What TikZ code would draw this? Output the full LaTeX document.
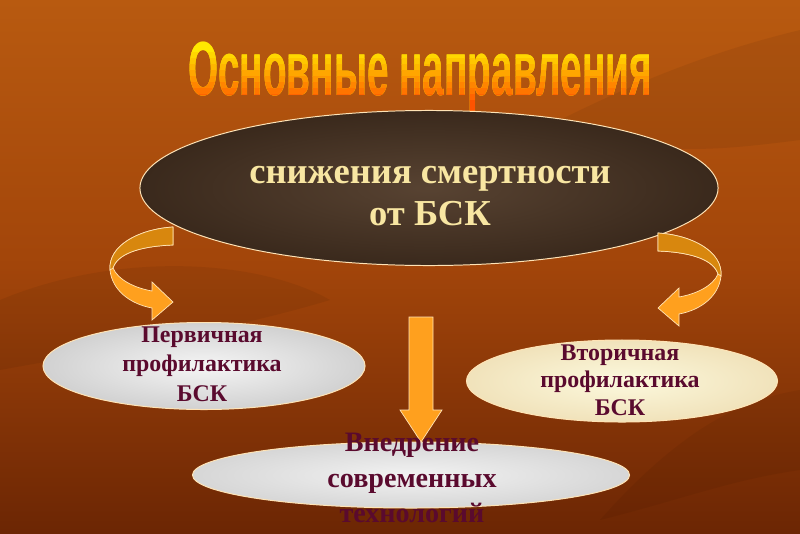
\documentclass[tikz,border=0pt]{standalone}
\usepackage{fontspec}
\setmainfont{Liberation Serif}
\newfontfamily\headfont{Liberation Sans}
\usetikzlibrary{shapes.geometric, positioning}
\definecolor{bgTop}{HTML}{B85A10}
\definecolor{bgMid}{HTML}{A2450A}
\definecolor{bgBot}{HTML}{6C2604}
\definecolor{arrOrange}{HTML}{FFA01E}
\definecolor{arrDark}{HTML}{D8870E}
\definecolor{arrEdge}{HTML}{FFE3B5}
\definecolor{txtMaroon}{HTML}{5A0A2E}
\definecolor{txtCream}{HTML}{F8E6A2}
\definecolor{headYellow}{HTML}{FFE800}
\definecolor{headRed}{HTML}{FF5200}
\definecolor{marbleIn}{HTML}{584332}
\definecolor{marbleOut}{HTML}{3A291C}
\tikzset{
  oval/.style={ellipse, draw=arrEdge, line width=0.7pt, inner sep=0pt},
  ovalText/.style={align=center, text=txtMaroon},
  bendArrow/.pic={
    \filldraw[arrOrange, draw=arrEdge, line width=0.5pt]
      (0,0) .. controls (-33,2) and (-65,18) .. (-63,43)
      .. controls (-61,63) and (-43,77) .. (-21,81)
      -- (-21,93) -- (0,75) -- (-21,55) -- (-21,64)
      .. controls (-38,61) and (-55,53) .. (-60,41)
      .. controls (-55,25) and (-28,19) .. (0,18) -- cycle;
    \filldraw[arrDark, draw=arrEdge, line width=0.5pt]
      (0,0) .. controls (-33,2) and (-65,18) .. (-63,43)
      -- (-60,41) .. controls (-55,25) and (-28,19) .. (0,18) -- cycle;
  },
}

\begin{document}
\begin{tikzpicture}[x=0.025cm, y=-0.025cm]
  % background
  \shade[top color=bgTop, bottom color=bgBot, middle color=bgMid]
    (0,0) rectangle (800,533);
  \useasboundingbox (0,0) rectangle (800,533);
  \fill[black, opacity=0.06] (0,300) .. controls (120,250) and (260,260) .. (330,300)
    .. controls (230,330) and (110,350) .. (0,370) -- cycle;
  \fill[black, opacity=0.06] (560,120) .. controls (680,60) and (760,40) .. (800,30)
    -- (800,140) .. controls (720,150) and (640,160) .. cycle;
  \fill[black, opacity=0.05] (600,520) .. controls (680,430) and (740,400) .. (800,390)
    -- (800,470) .. controls (730,480) and (680,500) .. cycle;

  % title, drawn in bands for a gradient
  \node[font=\headfont\bfseries\fontsize{52}{52}\selectfont, text=headYellow,
        anchor=base] (title) at (420,95) {\scalebox{0.53}[1.05]{Основные направления}};
  \foreach \i in {0,...,9}{
    \begin{scope}
      \clip (150,{46+6*\i}) rectangle (700,{52+6*\i+(\i==9)*20});
      \pgfmathsetmacro\mixval{100-11*\i}
      \node[font=\headfont\bfseries\fontsize{52}{52}\selectfont,
            text=headYellow!\mixval!headRed, anchor=base]
        at (420,95) {\scalebox{0.53}[1.05]{Основные направления}};
    \end{scope}
  }

  % ovals
  \node[oval, inner color=marbleIn, outer color=marbleOut,
        minimum width=14.45cm, minimum height=3.875cm] (goal) at (429,188) {};
  \node[oval, inner color=white!96!black, outer color=white!82!black,
        minimum width=8.05cm, minimum height=2.175cm] (first) at (204,366) {};
  \node[oval, inner color=white!90!yellow!95!brown, outer color=brown!25!white!90!yellow,
        minimum width=7.775cm, minimum height=2.05cm] (second) at (622,381) {};
  \node[oval, inner color=white!95!black, outer color=white!84!black,
        minimum width=10.925cm, minimum height=1.65cm] (tech) at (411,475) {};

  % arrows
  \pic at (173,227) {bendArrow};
  \pic[xscale=-1] at (658,233) {bendArrow};
  \filldraw[arrOrange, draw=arrEdge, line width=0.5pt]
    (409,317) -- (433,317) -- (433,410) -- (442,410) -- (421,442)
    -- (400,410) -- (409,410) -- cycle;

  % texts
  \node[align=center, text=txtCream, font=\bfseries\fontsize{26}{30}\selectfont]
    (goalText) at (430,196) {снижения смертности\\от БСК};
  \node[ovalText, font=\bfseries\fontsize{17}{21}\selectfont]
    (firstText) at (202,364) {Первичная\\профилактика\\БСК};
  \node[ovalText, font=\bfseries\fontsize{17}{19.5}\selectfont]
    (secondText) at (620,380) {Вторичная\\профилактика\\БСК};
  \node[ovalText, font=\bfseries\fontsize{20}{25.5}\selectfont]
    (techText) at (412,478) {Внедрение\\современных\\технологий};
\end{tikzpicture}
\end{document}
